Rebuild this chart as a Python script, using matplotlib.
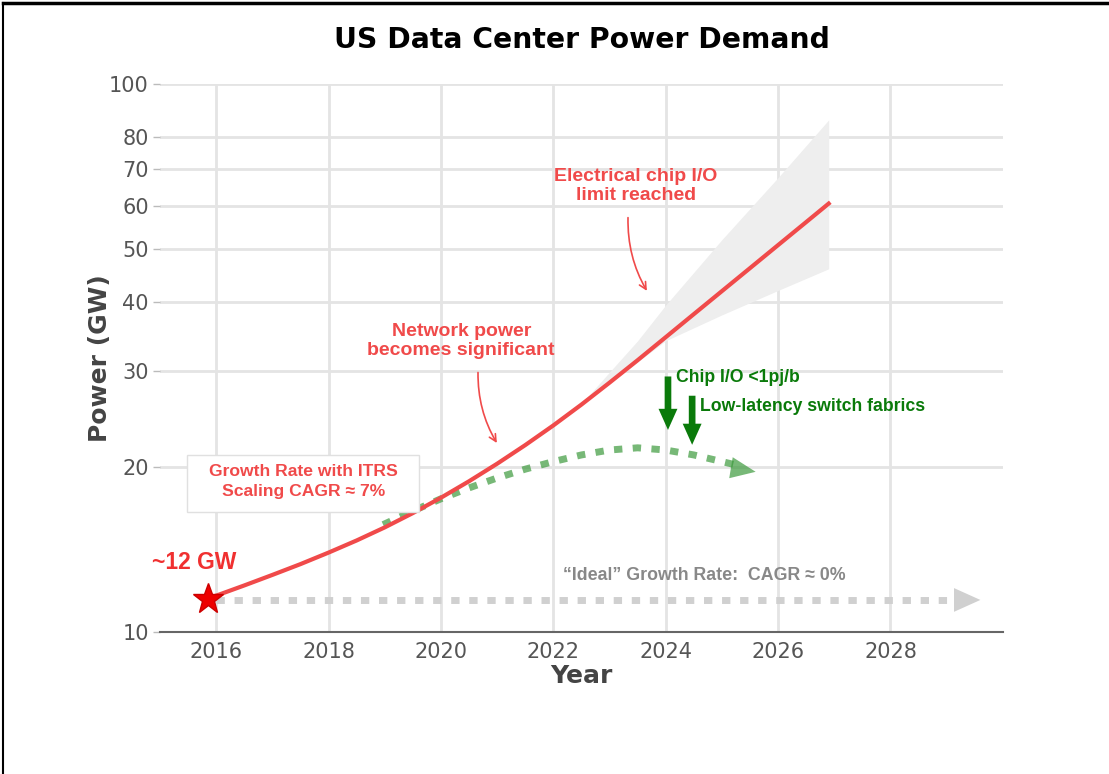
import numpy as np
import matplotlib
matplotlib.use("Agg")
import matplotlib.pyplot as plt
from matplotlib.lines import Line2D
from matplotlib.patches import Rectangle

# valores
anos_itrs = [2015.86, 2016.5, 2017.0, 2017.5, 2018.0, 2018.5, 2019.0, 2019.5, 2020.0, 2020.5,
             2021.0, 2021.5, 2022.0, 2022.5, 2023.0, 2023.5, 2024.0, 2024.5, 2025.0, 2025.5,
             2026.0, 2026.5, 2026.9]
pot_itrs = [11.51, 12.16, 12.71, 13.30, 13.96, 14.69, 15.52, 16.48, 17.58, 18.84,
            20.28, 21.93, 23.82, 26.00, 28.51, 31.33, 34.51, 38.02, 41.88, 46.13,
            50.82, 55.98, 60.5]

anos_faixa = [2022.6, 2023.0, 2023.5, 2024.0, 2025.0, 2026.0, 2026.9]
faixa_sup = [26.8, 29.8, 34.0, 39.5, 52.0, 67.5, 86.0]
faixa_inf = [26.5, 28.4, 31.1, 34.0, 37.9, 42.0, 46.0]

anos_verde = [2018.97, 2019.5, 2020.0, 2020.5, 2021.0, 2021.5, 2022.0, 2022.5, 2023.0,
              2023.5, 2024.0, 2024.5, 2025.0, 2025.2]
pot_verde = [15.70, 16.63, 17.50, 18.32, 19.10, 19.82, 20.46, 21.04, 21.48,
             21.68, 21.48, 21.04, 20.46, 20.23]
ponta_verde = (2025.6, 19.6)

anos_ideal = [2016.0, 2029.2]
pot_ideal = [11.44, 11.44]
ponta_ideal = (2029.6, 11.44)

yticks = [10, 20, 30, 40, 50, 60, 70, 80, 100]
xticks = [2016, 2018, 2020, 2022, 2024, 2026, 2028]

vermelho = "#f04a4a"
verde = "#0a7a0a"
fonte = "Liberation Sans"

fig = plt.figure(figsize=(11.09, 7.74), dpi=100)
ax = fig.add_axes([0.1443, 0.1835, 0.76, 0.708])

ax.set_yscale("log")
ax.set_xlim(2015, 2030)
ax.set_ylim(10, 100)
ax.set_yticks(yticks)
ax.set_yticklabels([str(v) for v in yticks])
ax.yaxis.set_minor_locator(matplotlib.ticker.NullLocator())
ax.set_xticks(xticks)
ax.grid(True, color="#e4e4e4", lw=2, zorder=0)
ax.set_axisbelow(True)
for s in ["top", "right", "left"]:
    ax.spines[s].set_visible(False)
ax.spines["bottom"].set_color("#666666")
ax.spines["bottom"].set_linewidth(1.5)
ax.tick_params(axis="y", colors="#555555", labelsize=15, length=5, width=1, color="#bbbbbb", pad=3)
ax.tick_params(axis="x", colors="#555555", labelsize=15, length=0, pad=7)

ax.set_xlabel("Year", fontsize=18, fontweight="bold", color="#444444", labelpad=2)
ax.set_ylabel("Power (GW)", fontsize=18, fontweight="bold", color="#444444")
ax.yaxis.set_label_coords(-0.057, 0.5)
ax.set_title("US Data Center Power Demand", fontsize=20.3, fontweight="bold", pad=26)

# faixa de incerteza
ax.fill_between(anos_faixa, faixa_inf, faixa_sup, color="#eeeeee", lw=0, zorder=1)

# linha ideal
ax.plot(anos_ideal, pot_ideal, color="#d0d0d0", lw=5, ls=(0, (1.2, 1.4)), zorder=2)
ax.annotate("", xy=ponta_ideal, xytext=(ponta_ideal[0] - 0.45, ponta_ideal[1]),
            arrowprops=dict(arrowstyle="simple,head_width=0.9,head_length=1.0,tail_width=0.01",
                            color="#d0d0d0", mutation_scale=19, lw=0, shrinkA=0, shrinkB=0), zorder=2)

# curva verde
ax.plot(anos_verde, pot_verde, color="#3d9a3d", alpha=0.7, lw=5, ls=(0, (1.2, 1.5)), zorder=3)
ax.annotate("", xy=ponta_verde, xytext=(ponta_verde[0] - 0.45, ponta_verde[1] + 0.35),
            arrowprops=dict(arrowstyle="simple,head_width=0.85,head_length=1.0,tail_width=0.01",
                            color="#3d9a3d", alpha=0.7, mutation_scale=18, lw=0, shrinkA=0, shrinkB=0),
            zorder=3)

# linha ITRS
ax.plot(anos_itrs, pot_itrs, color=vermelho, lw=3, zorder=4)
ax.plot([anos_itrs[0]], [pot_itrs[0]], marker="*", color="#ee0000", markersize=23,
        markeredgecolor="#cc0000", zorder=5)

# caixa e textos
ax.add_patch(Rectangle((2015.48, 16.56), 4.13, 4.48, fc="white", ec="#e0e0e0", lw=1, zorder=5))
ax.text(2017.55, 18.8, "Growth Rate with ITRS\nScaling CAGR \u2248 7%", color=vermelho, fontsize=12.6,
        fontweight="bold", family=fonte, ha="center", va="center", linespacing=1.4, zorder=6)
ax.text(2015.6, 13.4, "~12 GW", color="#f03030", fontsize=16.5, fontweight="bold", family=fonte,
        ha="center", va="center", zorder=6)
ax.text(2020.36, 34.0, "Network power\nbecomes significant", color=vermelho, fontsize=14,
        fontweight="bold", family=fonte, ha="center", va="center", linespacing=1.15, zorder=6)
ax.text(2023.47, 65.1, "Electrical chip I/O\nlimit reached", color=vermelho, fontsize=14,
        fontweight="bold", family=fonte, ha="center", va="center", linespacing=1.15, zorder=6)
ax.text(2024.19, 29.1, "Chip I/O <1pj/b", color=verde, fontsize=12.7, fontweight="bold",
        family=fonte, ha="left", va="center", zorder=6)
ax.text(2024.61, 25.8, "Low-latency switch fabrics", color=verde, fontsize=12.7, fontweight="bold",
        family=fonte, ha="left", va="center", zorder=6)
ax.text(2022.17, 12.7, "\u201cIdeal\u201d Growth Rate:  CAGR \u2248 0%", color="#888888", fontsize=12.8,
        fontweight="bold", family=fonte, ha="left", va="center", zorder=6)

# setas curvas
ax.annotate("", xy=(2021.02, 21.9), xytext=(2020.66, 30.1),
            arrowprops=dict(arrowstyle="->,head_width=0.25,head_length=0.5", color=vermelho, lw=1.2,
                            connectionstyle="arc3,rad=0.15"), zorder=6)
ax.annotate("", xy=(2023.69, 41.5), xytext=(2023.33, 57.7),
            arrowprops=dict(arrowstyle="->,head_width=0.25,head_length=0.5", color=vermelho, lw=1.2,
                            connectionstyle="arc3,rad=0.15"), zorder=6)

# setas verdes
for x0, y0, y1 in [(2024.04, 29.6, 23.1), (2024.47, 27.3, 21.7)]:
    ax.annotate("", xy=(x0, y1), xytext=(x0, y0),
                arrowprops=dict(arrowstyle="simple,head_width=0.85,head_length=0.95,tail_width=0.3",
                                color=verde, mutation_scale=16, lw=0), zorder=6)

# moldura
fig.add_artist(Line2D([0.003, 1.0], [0.996, 0.996], transform=fig.transFigure, color="black", lw=2.5))
fig.add_artist(Line2D([0.003, 0.003], [0.0, 0.996], transform=fig.transFigure, color="black", lw=1.5))

fig.savefig("out.png", dpi=100)
